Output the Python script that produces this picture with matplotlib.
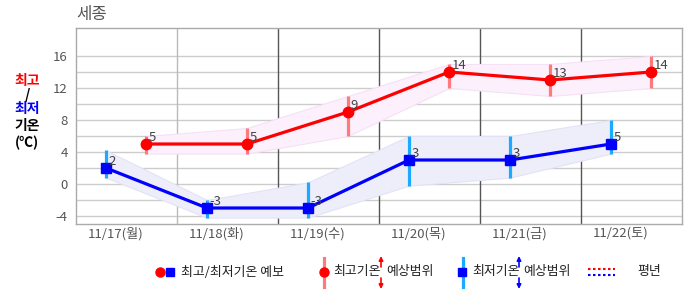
import matplotlib
matplotlib.use("Agg")
import matplotlib.pyplot as plt
import numpy as np

plt.rcParams['font.family'] = ['Noto Sans CJK KR', 'DejaVu Sans']

dates = ['11/17(월)', '11/18(화)', '11/19(수)', '11/20(목)', '11/21(금)', '11/22(토)']
tmax = [5, 5, 9, 14, 13, 14]
tmax_lo = [3.8, 3.8, 6, 12, 11, 12]
tmax_hi = [6, 7, 11, 15, 15, 16]
tmin = [2, -3, -3, 3, 3, 5]
tmin_lo = [0.8, -4.2, -4.2, -0.2, 0.8, 3.8]
tmin_hi = [4.2, -2, 0.2, 6, 6, 8]
yticks = [-4, 0, 4, 8, 12, 16]

fig = plt.figure(figsize=(6.86, 2.95), dpi=100)
ax = fig.add_axes([76/686, 1-224/295, 606/686, 196/295])

day = np.arange(len(dates))
xmin = day + 0.297
xmax = day + 0.693

# bands
ax.fill_between(xmax, tmax_lo, tmax_hi, color='#fcf0fc', ec='#f6e0f6', lw=0.8, zorder=1)
ax.fill_between(xmin, tmin_lo, tmin_hi, color='#eeeefb', ec='#e2e2f7', lw=0.8, zorder=1)

# grid
for v in range(-4, 17, 2):
    ax.axhline(v, color='#cccccc', lw=1, zorder=0)
for i in range(1, 6):
    ax.axvline(i, color='#bbbbbb' if i == 1 else '#555555', lw=1, zorder=0)

# range bars
ax.vlines(xmax, tmax_lo, tmax_hi, color='#ff7b7b', lw=2.3, zorder=2)
ax.vlines(xmin, tmin_lo, tmin_hi, color='#1aaaff', lw=2.3, zorder=2)

ax.plot(xmax, tmax, color='#ff0000', lw=2.3, marker='o', ms=7.5, zorder=3)
ax.plot(xmin, tmin, color='#0000ff', lw=2.3, marker='s', ms=7.5, zorder=3)

for x, v in zip(xmax, tmax):
    ax.annotate(str(v), (x, v), xytext=(2, 2), textcoords='offset points',
                ha='left', va='baseline', fontsize=9.5, color='#444444', zorder=4)
for x, v in zip(xmin, tmin):
    ax.annotate(str(v), (x, v), xytext=(2, 2), textcoords='offset points',
                ha='left', va='baseline', fontsize=9.5, color='#444444', zorder=4)

ax.set_xlim(0, 6)
ax.set_ylim(-5, 19.5)
ax.set_yticks(yticks)
ax.set_yticklabels([str(v) for v in yticks], fontsize=9.5, color='#555555')
ax.set_xticks(day + 0.39)
ax.set_xticklabels(dates, fontsize=9.5, color='#555555')
ax.tick_params(length=0, pad=2)
ax.tick_params(axis='y', pad=6)
for s in ax.spines.values():
    s.set_color('#aaaaaa')
    s.set_linewidth(1)

# title and y label
fig.text(76/686, 1-15/295, '세종', fontsize=12, color='#555555', va='center', ha='left')
lab = [('최고', '#ff0000', 81), ('/', '#000000', 95), ('최저', '#0000ff', 109),
       ('기온', '#000000', 126), ('(℃)', '#000000', 143)]
for t, c, y in lab:
    fig.text(27/686, 1-y/295, t, fontsize=10, fontweight='bold', color=c,
             ha='center', va='center')

# legend
lg = fig.add_axes([0, 0, 1, 1], zorder=-1)
lg.set_xlim(0, 686)
lg.set_ylim(295, 0)
lg.axis('off')
ly = 272
fs = 9.3
ap = dict(arrowstyle='-|>', lw=1.2, mutation_scale=6, shrinkA=0, shrinkB=0)
lg.plot([160], [ly], 'o', color='#ff0000', ms=6.5)
lg.plot([170], [ly], 's', color='#0000ff', ms=6)
lg.text(181, ly, '최고/최저기온 예보', fontsize=fs, va='center', color='#222222')
lg.plot([324, 324], [258, 287], color='#ff7b7b', lw=2.3)
lg.plot([324], [ly], 'o', color='#ff0000', ms=6.5)
lg.text(333, ly, '최고기온', fontsize=fs, va='center', color='#222222')
lg.annotate('', (381, 256), (381, 267), arrowprops=dict(ap, color='#ff0000'))
lg.annotate('', (381, 289), (381, 278), arrowprops=dict(ap, color='#ff0000'))
lg.text(386, ly, '예상범위', fontsize=fs, va='center', color='#222222')
lg.plot([463, 463], [258, 287], color='#1aaaff', lw=2.3)
lg.plot([462], [ly], 's', color='#0000ff', ms=6)
lg.text(472, ly, '최저기온', fontsize=fs, va='center', color='#222222')
lg.annotate('', (519, 256), (519, 267), arrowprops=dict(ap, color='#0000ff'))
lg.annotate('', (519, 289), (519, 278), arrowprops=dict(ap, color='#0000ff'))
lg.text(523, ly, '예상범위', fontsize=fs, va='center', color='#222222')
lg.plot([588, 615], [269, 269], color='#ff0000', lw=1.5, ls=(0, (1.2, 1.2)))
lg.plot([588, 615], [274.5, 274.5], color='#0000ff', lw=1.5, ls=(0, (1.2, 1.2)))
lg.text(637, ly, '평년', fontsize=fs, va='center', color='#222222')

fig.savefig('out.png', dpi=100)
